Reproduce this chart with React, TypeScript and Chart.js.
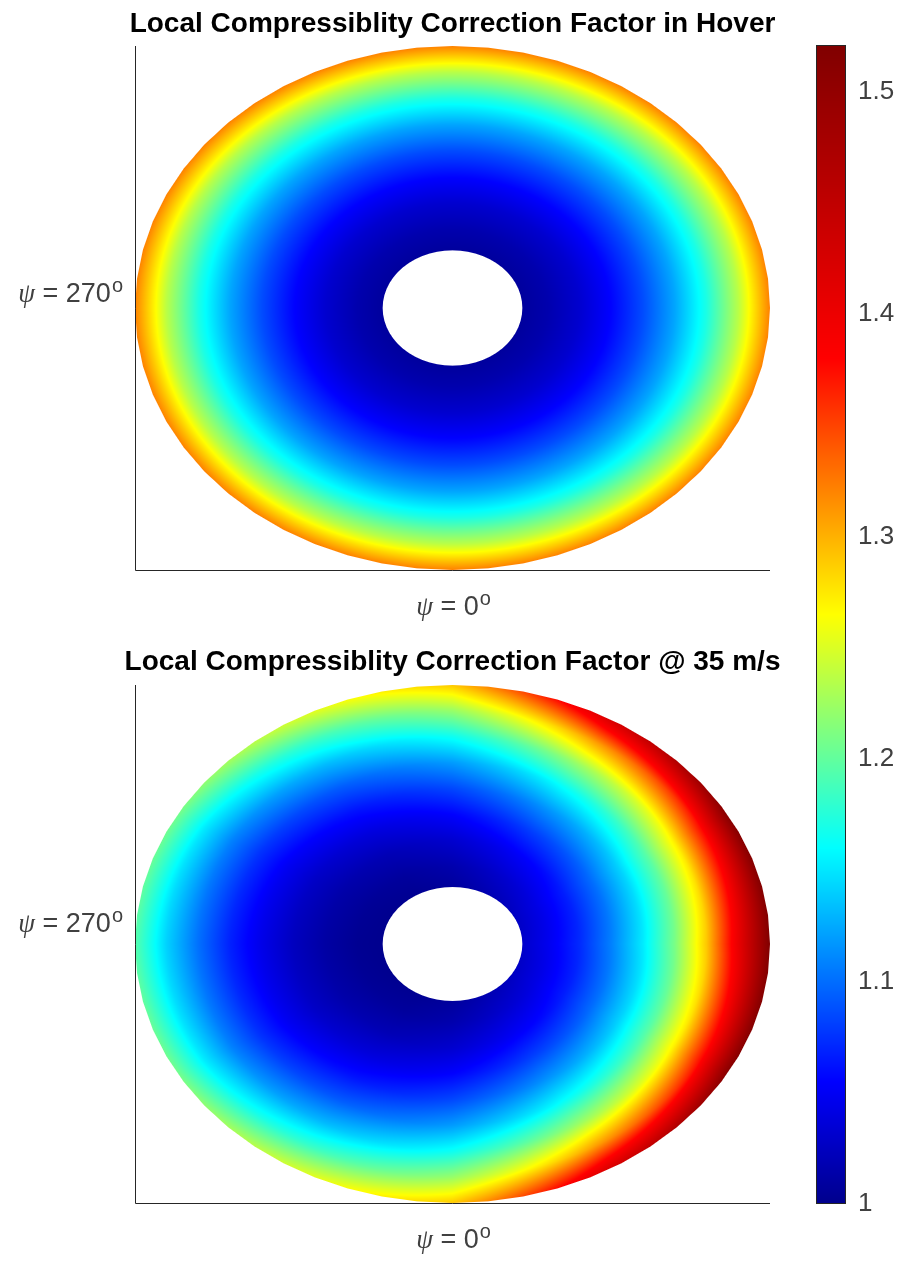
import React, { useEffect, useRef } from "react";
import { Chart, registerables } from "chart.js";
Chart.register(...registerables);

// ---------------- data ----------------
const radialStations = [0.22, 0.3, 0.4, 0.5, 0.6, 0.7, 0.8, 0.9, 1.0];
const azimuthStations = [0, 30, 60, 90, 120, 150, 180, 210, 240, 270, 300, 330];

const hoverFactor = [1.008, 1.016, 1.032, 1.056, 1.086, 1.123, 1.171, 1.236, 1.322];

const fwdPsi0 = [1.008, 1.016, 1.032, 1.055, 1.084, 1.119, 1.165, 1.222, 1.29];
const fwdPsi30 = [1.018, 1.03, 1.051, 1.08, 1.116, 1.162, 1.224, 1.308, 1.425];
const fwdPsi60 = [1.026, 1.042, 1.066, 1.099, 1.141, 1.196, 1.27, 1.375, 1.515];
const fwdPsi90 = [1.03, 1.047, 1.072, 1.108, 1.152, 1.21, 1.29, 1.405, 1.521];
const fwdPsi120 = [1.026, 1.042, 1.066, 1.099, 1.141, 1.196, 1.27, 1.375, 1.515];
const fwdPsi150 = [1.018, 1.03, 1.051, 1.08, 1.116, 1.162, 1.224, 1.308, 1.425];
const fwdPsi180 = [1.008, 1.016, 1.032, 1.055, 1.084, 1.119, 1.165, 1.222, 1.29];
const fwdPsi210 = [1.003, 1.008, 1.02, 1.039, 1.063, 1.093, 1.132, 1.183, 1.248];
const fwdPsi240 = [1.001, 1.005, 1.014, 1.028, 1.049, 1.075, 1.108, 1.152, 1.208];
const fwdPsi270 = [1.001, 1.003, 1.011, 1.024, 1.044, 1.068, 1.101, 1.141, 1.195];
const fwdPsi300 = [1.001, 1.005, 1.014, 1.028, 1.049, 1.075, 1.108, 1.152, 1.208];
const fwdPsi330 = [1.003, 1.008, 1.02, 1.039, 1.063, 1.093, 1.132, 1.183, 1.248];

const colorbarTicks = [1, 1.1, 1.2, 1.3, 1.4, 1.5];
const colorLimits = [1, 1.521];

const titleHover = "Local Compressiblity Correction Factor in Hover";
const titleForward = "Local Compressiblity Correction Factor @ 35 m/s";
const psiBottomLabel = "0";
const psiLeftLabel = "270";

// ---------------- style ----------------
const cmapValues = [1.0, 1.055, 1.16, 1.265, 1.38, 1.521];
const cmapColors = [
  [0, 0, 140],
  [0, 0, 255],
  [0, 255, 255],
  [255, 255, 0],
  [255, 0, 0],
  [128, 0, 0],
];
const outerFacets = 56;
const textGray = "#404040";
const axisGray = "#262626";

function clamp(v: number, lo: number, hi: number) {
  return v < lo ? lo : v > hi ? hi : v;
}

function colorFor(v: number): number[] {
  if (v <= cmapValues[0]) return cmapColors[0];
  for (let k = 0; k < cmapValues.length - 1; k++) {
    if (v <= cmapValues[k + 1]) {
      const f = (v - cmapValues[k]) / (cmapValues[k + 1] - cmapValues[k]);
      const a = cmapColors[k];
      const b = cmapColors[k + 1];
      return [a[0] + (b[0] - a[0]) * f, a[1] + (b[1] - a[1]) * f, a[2] + (b[2] - a[2]) * f];
    }
  }
  return cmapColors[cmapColors.length - 1];
}

function fieldValue(rows: number[][], psis: number[], r: number, psiDeg: number) {
  const n = radialStations.length;
  const rr = clamp(r, radialStations[0], radialStations[n - 1]);
  let i = 0;
  while (i < n - 2 && rr > radialStations[i + 1]) i++;
  const fr = (rr - radialStations[i]) / (radialStations[i + 1] - radialStations[i]);
  const radial = (row: number[]) => row[i] + (row[i + 1] - row[i]) * fr;
  if (rows.length === 1) return radial(rows[0]);
  const step = 360 / psis.length;
  const p = ((psiDeg % 360) + 360) % 360;
  const j = Math.floor(p / step) % psis.length;
  const j2 = (j + 1) % psis.length;
  const fa = (p - psis[j]) / step;
  return radial(rows[j]) * (1 - fa) + radial(rows[j2]) * fa;
}

function gridNodes(psis: number[]) {
  const pts: { x: number; y: number }[] = [];
  for (const p of psis) {
    const a = (p * Math.PI) / 180;
    for (const r of radialStations) pts.push({ x: r * Math.sin(a), y: -r * Math.cos(a) });
  }
  return pts;
}

function drawPsiLabel(ctx: CanvasRenderingContext2D, deg: string, x: number, baseline: number, align: string) {
  const size = 27;
  const fPsi = `italic ${size}px "Liberation Serif"`;
  const fMain = `${size}px "Liberation Sans"`;
  const fSup = `20px "Liberation Sans"`;
  ctx.save();
  ctx.fillStyle = textGray;
  ctx.textAlign = "left";
  ctx.textBaseline = "alphabetic";
  ctx.font = fPsi;
  const w1 = ctx.measureText("ψ").width;
  const mid = " = " + deg;
  ctx.font = fMain;
  const w2 = ctx.measureText(mid).width;
  ctx.font = fSup;
  const w3 = ctx.measureText("o").width;
  const total = w1 + w2 + w3 + 1;
  const x0 = align === "right" ? x - total : x - total / 2;
  ctx.font = fPsi;
  ctx.fillText("ψ", x0, baseline);
  ctx.font = fMain;
  ctx.fillText(mid, x0 + w1, baseline);
  ctx.font = fSup;
  ctx.fillText("o", x0 + w1 + w2 + 1, baseline - 10);
  ctx.restore();
}

function fieldPlugin(o: any) {
  return {
    id: "rotorField",
    beforeDatasetsDraw(chart: any) {
      const { ctx, chartArea: a, scales } = chart;
      const xs = scales.x;
      const ys = scales.y;
      const w = Math.round(a.right - a.left);
      const h = Math.round(a.bottom - a.top);
      const off = document.createElement("canvas");
      off.width = w;
      off.height = h;
      const octx = off.getContext("2d") as CanvasRenderingContext2D;
      const img = octx.createImageData(w, h);
      const d = img.data;
      const pxX = Math.abs(xs.getPixelForValue(1) - xs.getPixelForValue(0));
      const pxY = Math.abs(ys.getPixelForValue(1) - ys.getPixelForValue(0));
      const seg = (2 * Math.PI) / outerFacets;
      const cosHalf = Math.cos(seg / 2);
      const hub = radialStations[0];
      for (let py = 0; py < h; py++) {
        const Y = ys.getValueForPixel(a.top + py + 0.5);
        for (let px = 0; px < w; px++) {
          const X = xs.getValueForPixel(a.left + px + 0.5);
          const r = Math.hypot(X, Y);
          if (r < hub * 0.9 || r > 1.02) continue;
          let psi = Math.atan2(X, -Y);
          if (psi < 0) psi += 2 * Math.PI;
          const loc = (psi % seg) - seg / 2;
          const poly = cosHalf / Math.cos(loc);
          const outer = poly;
          const inner = poly * hub;
          const ux = X / r;
          const uy = Y / r;
          const k = Math.hypot(ux * pxX, uy * pxY);
          const aOut = clamp((outer - r) * k + 0.5, 0, 1);
          const aIn = clamp((r - inner) * k + 0.5, 0, 1);
          const alpha = Math.min(aOut, aIn);
          if (alpha <= 0) continue;
          const v = fieldValue(o.rows, o.psis, r, (psi * 180) / Math.PI);
          const c = colorFor(v);
          const idx = (py * w + px) * 4;
          d[idx] = c[0];
          d[idx + 1] = c[1];
          d[idx + 2] = c[2];
          d[idx + 3] = Math.round(alpha * 255);
        }
      }
      octx.putImageData(img, 0, 0);
      ctx.drawImage(off, a.left, a.top);
    },
    afterDraw(chart: any) {
      const { ctx, chartArea: a } = chart;
      ctx.save();
      ctx.strokeStyle = axisGray;
      ctx.lineWidth = 1;
      ctx.beginPath();
      ctx.moveTo(a.left + 0.5, a.top);
      ctx.lineTo(a.left + 0.5, a.bottom + 0.5);
      ctx.lineTo(a.right, a.bottom + 0.5);
      ctx.stroke();
      ctx.fillStyle = "#000";
      ctx.font = 'bold 28px "Liberation Sans"';
      ctx.textAlign = "center";
      ctx.textBaseline = "alphabetic";
      ctx.fillText(o.title, (a.left + a.right) / 2, o.titleBase);
      ctx.restore();
      drawPsiLabel(ctx, psiLeftLabel, 123, o.yLabelBase, "right");
      drawPsiLabel(ctx, psiBottomLabel, (a.left + a.right) / 2 + 1, o.xLabelBase, "center");
    },
  };
}

function makeFieldChart(canvas: HTMLCanvasElement, o: any) {
  return new Chart(canvas, {
    type: "scatter",
    data: { datasets: [{ data: gridNodes(o.psis), pointRadius: 0, pointHoverRadius: 0 }] },
    options: {
      animation: false,
      responsive: false,
      devicePixelRatio: 1,
      events: [],
      layout: { padding: { left: 135, right: 30, top: o.padTop, bottom: o.padBottom } },
      plugins: { legend: { display: false }, tooltip: { enabled: false }, title: { display: false } },
      scales: {
        x: { type: "linear", min: -1, max: 1, display: false },
        y: { type: "linear", min: -1, max: 1, display: false },
      },
    } as any,
    plugins: [fieldPlugin(o)],
  });
}

const colorbarPlugin = {
  id: "colorbarFill",
  beforeDatasetsDraw(chart: any) {
    const { ctx, chartArea: a, scales } = chart;
    const ys = scales.y;
    ctx.save();
    for (let py = Math.round(a.top); py < Math.round(a.bottom); py++) {
      const v = ys.getValueForPixel(py + 0.5);
      const c = colorFor(v);
      ctx.fillStyle = `rgb(${Math.round(c[0])},${Math.round(c[1])},${Math.round(c[2])})`;
      ctx.fillRect(a.left, py, a.right - a.left, 1);
    }
    ctx.strokeStyle = axisGray;
    ctx.lineWidth = 1;
    ctx.strokeRect(a.left + 0.5, a.top + 0.5, a.right - a.left - 1, a.bottom - a.top - 1);
    ctx.restore();
  },
};

function makeColorbar(canvas: HTMLCanvasElement) {
  return new Chart(canvas, {
    type: "scatter",
    data: { datasets: [{ data: colorbarTicks.map((v) => ({ x: 0.5, y: v })), pointRadius: 0 }] },
    options: {
      animation: false,
      responsive: false,
      devicePixelRatio: 1,
      events: [],
      layout: { padding: { left: 16, right: 0, top: 45, bottom: 57 } },
      plugins: { legend: { display: false }, tooltip: { enabled: false } },
      scales: {
        x: { type: "linear", min: 0, max: 1, display: false },
        y: {
          type: "linear",
          position: "right",
          min: colorLimits[0],
          max: colorLimits[1],
          afterBuildTicks: (s: any) => {
            s.ticks = colorbarTicks.map((v) => ({ value: v }));
          },
          afterFit: (s: any) => {
            s.width = 58;
          },
          grid: { display: false, drawTicks: false, tickLength: 0 },
          border: { display: false },
          ticks: {
            padding: 12,
            color: textGray,
            font: { family: '"Liberation Sans"', size: 26 },
            callback: (v: any) => String(v),
          },
        },
      },
    } as any,
    plugins: [colorbarPlugin],
  });
}

export default function App() {
  const c1 = useRef<HTMLCanvasElement>(null);
  const c2 = useRef<HTMLCanvasElement>(null);
  const c3 = useRef<HTMLCanvasElement>(null);

  useEffect(() => {
    const forwardRows = [
      fwdPsi0, fwdPsi30, fwdPsi60, fwdPsi90, fwdPsi120, fwdPsi150,
      fwdPsi180, fwdPsi210, fwdPsi240, fwdPsi270, fwdPsi300, fwdPsi330,
    ];
    const charts = [
      makeFieldChart(c1.current as HTMLCanvasElement, {
        rows: [hoverFactor],
        psis: [0],
        title: titleHover,
        titleBase: 32,
        yLabelBase: 302,
        xLabelBase: 615,
        padTop: 46,
        padBottom: 60,
      }),
      makeFieldChart(c2.current as HTMLCanvasElement, {
        rows: forwardRows,
        psis: azimuthStations,
        title: titleForward,
        titleBase: 37,
        yLabelBase: 299,
        xLabelBase: 615,
        padTop: 52,
        padBottom: 58,
      }),
      makeColorbar(c3.current as HTMLCanvasElement),
    ];
    return () => charts.forEach((c) => c.destroy());
  }, []);

  return (
    <div style={{ position: "absolute", left: 0, top: 0, width: 904, height: 1261, background: "#fff", overflow: "hidden" }}>
      <canvas ref={c1} width={800} height={630} style={{ position: "absolute", left: 0, top: 0 }} />
      <canvas ref={c2} width={800} height={628} style={{ position: "absolute", left: 0, top: 633 }} />
      <canvas ref={c3} width={104} height={1261} style={{ position: "absolute", left: 800, top: 0 }} />
    </div>
  );
}
